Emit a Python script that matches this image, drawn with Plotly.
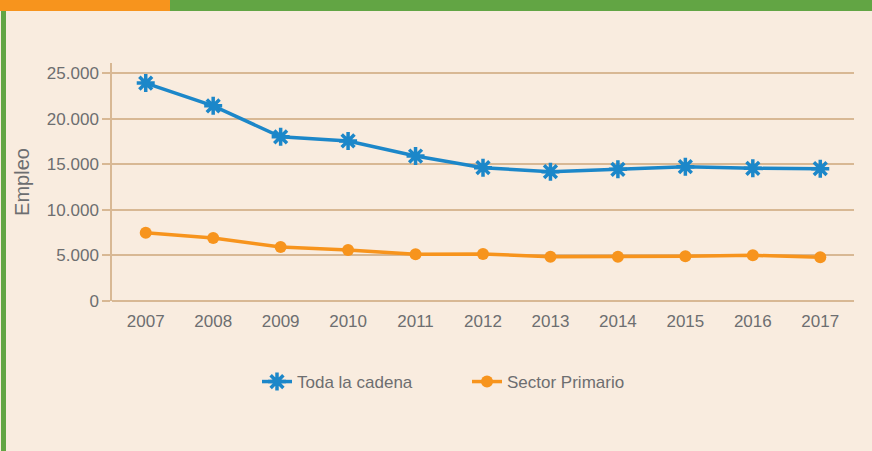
import plotly.graph_objects as go

# ── Colours ────────────────────────────────────────────────────────────────
BG = "#F9ECDF"
GREEN = "#62A544"
ORANGE = "#F7941D"
BLUE = "#1C87C9"
GRID = "#D8B894"
TEXT = "#6D6E70"

# ── Data ───────────────────────────────────────────────────────────────────
years = ["2007", "2008", "2009", "2010", "2011", "2012",
         "2013", "2014", "2015", "2016", "2017"]
toda_cadena = [23900, 21400, 18000, 17550, 15900, 14620,
               14180, 14440, 14730, 14550, 14510]
sector_primario = [7490, 6910, 5920, 5590, 5120, 5150,
                   4860, 4860, 4900, 5010, 4790]
y_ticks = [0, 5000, 10000, 15000, 20000, 25000]

fig = go.Figure()

fig.add_trace(go.Scatter(
    x=years, y=toda_cadena,
    mode="lines+markers",
    name="Toda la cadena",
    line=dict(color=BLUE, width=3.5),
    marker=dict(symbol="asterisk-open", size=15, color=BLUE,
                line=dict(color=BLUE, width=3.5)),
))

fig.add_trace(go.Scatter(
    x=years, y=sector_primario,
    mode="lines+markers",
    name="Sector Primario",
    line=dict(color=ORANGE, width=3.5),
    marker=dict(symbol="circle", size=12, color=ORANGE),
))

# ── Decoration: top banner and left border ─────────────────────────────────
W, H = 872, 451
L, R, T, B = 112, 18, 63, 150
pw, ph = W - L - R, H - T - B


def px(x):
    return (x - L) / pw


def py(y):
    return (H - B - y) / ph


shapes = [
    dict(type="rect", xref="paper", yref="paper", layer="above",
         x0=px(0), x1=px(170), y0=py(11), y1=py(0),
         fillcolor=ORANGE, line=dict(width=0)),
    dict(type="rect", xref="paper", yref="paper", layer="above",
         x0=px(170), x1=px(W), y0=py(11), y1=py(0),
         fillcolor=GREEN, line=dict(width=0)),
    dict(type="rect", xref="paper", yref="paper", layer="above",
         x0=px(1), x1=px(6), y0=py(H), y1=py(11),
         fillcolor=GREEN, line=dict(width=0)),
]

fig.update_layout(
    width=W, height=H,
    margin=dict(l=L, r=R, t=T, b=B),
    paper_bgcolor=BG,
    plot_bgcolor=BG,
    separators=",.",
    font=dict(family="Liberation Sans, Arial, sans-serif", size=17, color=TEXT),
    shapes=shapes,
    showlegend=True,
    legend=dict(orientation="h", x=px(257), xanchor="left",
                y=py(382), yanchor="middle",
                bgcolor="rgba(0,0,0,0)", font=dict(size=17, color=TEXT),
                entrywidth=165, entrywidthmode="pixels"),
    xaxis=dict(
        type="category",
        range=[-0.5, 10.5],
        showgrid=False,
        zeroline=False,
        showline=False,
        ticks="",
        ticklabelstandoff=8,
        tickfont=dict(size=17, color=TEXT),
    ),
    yaxis=dict(
        range=[0, 26100],
        tickvals=y_ticks,
        tickformat=",d",
        showgrid=True,
        gridcolor=GRID,
        gridwidth=1.5,
        zeroline=True,
        zerolinecolor=GRID,
        zerolinewidth=1.5,
        showline=True,
        linecolor=GRID,
        linewidth=1.5,
        ticks="outside",
        ticklen=8,
        tickcolor=GRID,
        tickwidth=1.5,
        ticklabelstandoff=0,
        tickfont=dict(size=17, color=TEXT),
        title=dict(text="Empleo", font=dict(size=20, color=TEXT), standoff=12),
    ),
)

fig.write_html("out.html", config={"displayModeBar": False},
               post_script="document.body.style.margin='0';")
